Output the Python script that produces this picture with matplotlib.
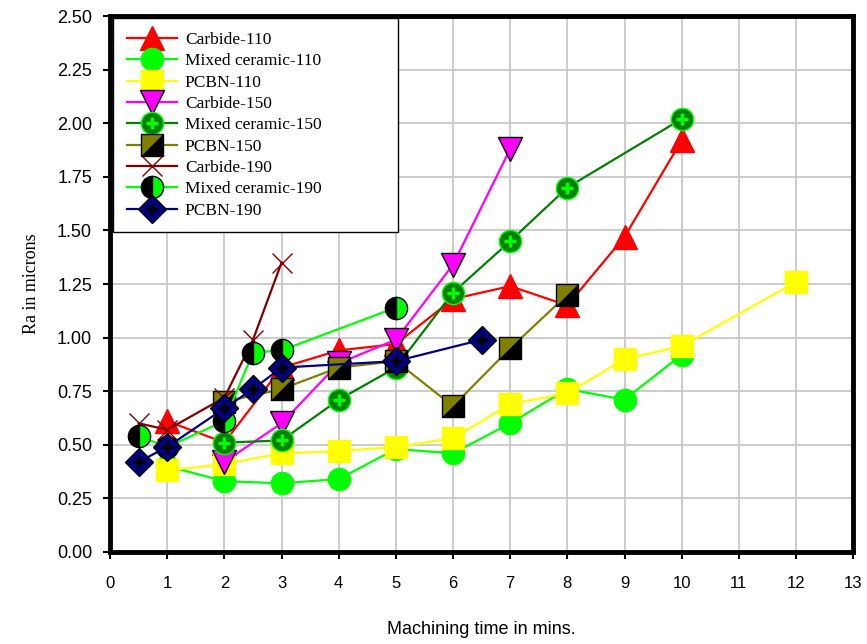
import numpy as np
import matplotlib
matplotlib.use('Agg')
import matplotlib.pyplot as plt
from matplotlib.legend_handler import HandlerTuple

# data
c110_x = [1, 2, 3, 4, 5, 6, 7, 8, 9, 10]
c110_y = [0.61, 0.51, 0.86, 0.94, 0.97, 1.18, 1.24, 1.15, 1.47, 1.92]

mc110_x = [1, 2, 3, 4, 5, 6, 7, 8, 9, 10]
mc110_y = [0.40, 0.33, 0.32, 0.34, 0.48, 0.46, 0.60, 0.76, 0.71, 0.92]

p110_x = [1, 2, 3, 4, 5, 6, 7, 8, 9, 10, 12]
p110_y = [0.38, 0.41, 0.46, 0.47, 0.49, 0.53, 0.69, 0.74, 0.90, 0.96, 1.26]

c150_x = [2, 3, 4, 5, 6, 7]
c150_y = [0.42, 0.60, 0.88, 0.99, 1.34, 1.88]

mc150_x = [2, 3, 4, 5, 6, 7, 8, 10]
mc150_y = [0.51, 0.52, 0.71, 0.86, 1.21, 1.45, 1.70, 2.02]

p150_x = [2, 3, 4, 5, 6, 7, 8]
p150_y = [0.70, 0.76, 0.86, 0.89, 0.68, 0.95, 1.20]

c190_x = [0.5, 1, 2, 2.5, 3]
c190_y = [0.60, 0.57, 0.72, 0.99, 1.35]

mc190_x = [0.5, 1, 2, 2.5, 3, 5]
mc190_y = [0.54, 0.49, 0.61, 0.93, 0.94, 1.14]

p190_x = [0.5, 1, 2, 2.5, 3, 5, 6.5]
p190_y = [0.42, 0.49, 0.67, 0.76, 0.86, 0.89, 0.99]

x_ticks = np.arange(0, 14, 1)
y_ticks = np.arange(0, 2.51, 0.25)

serif = ['Liberation Serif', 'DejaVu Serif']
sans = ['Liberation Sans', 'DejaVu Sans']

# custom half squares for PCBN-150 (diagonal split)
upper_tri = [(-1, 1), (1, 1), (-1, -1), (-1, 1)]
lower_tri = [(1, 1), (1, -1), (-1, -1), (1, 1)]

fig = plt.figure(figsize=(8.67, 6.44), dpi=100)
ax = fig.add_axes([0.127, 0.143, 0.857, 0.832])

lw = 1.6

l1, = ax.plot(c110_x, c110_y, color='#ff0000', lw=lw, marker='^', ms=17,
              mfc='#ff0000', mec='#ff0000')
l2, = ax.plot(mc110_x, mc110_y, color='#00ff00', lw=lw, marker='o', ms=16,
              mfc='#00ff00', mec='#00ff00')
l3, = ax.plot(p110_x, p110_y, color='#ffff00', lw=lw, marker='s', ms=16,
              mfc='#ffff00', mec='#ffff00')
l4, = ax.plot(c150_x, c150_y, color='#ff00ff', lw=lw, marker='v', ms=17,
              mfc='#ff00ff', mec='black', mew=1)
l5, = ax.plot(mc150_x, mc150_y, color='#008000', lw=lw, marker='o', ms=16,
              mfc='#008000', mec='#00ff00', mew=1)
l5b, = ax.plot(mc150_x, mc150_y, ls='none', marker='+', ms=9,
               mec='#00ff00', mew=2.5)
l6, = ax.plot(p150_x, p150_y, color='#808000', lw=lw, marker=upper_tri, ms=16,
              mfc='#808000', mec='#808000', mew=0.5)
l6b, = ax.plot(p150_x, p150_y, ls='none', marker=lower_tri, ms=16,
               mfc='black', mec='black', mew=0.5)
l6c, = ax.plot(p150_x, p150_y, ls='none', marker='s', ms=16,
               mfc='none', mec='black', mew=1)
l7, = ax.plot(c190_x, c190_y, color='#800000', lw=lw, marker='x', ms=14,
              mec='#800000', mew=1)
l8, = ax.plot(mc190_x, mc190_y, color='#00ff00', lw=lw, marker='o', ms=16,
              fillstyle='left', mfc='black', mfcalt='#00ff00', mec='black', mew=1)
l9, = ax.plot(p190_x, p190_y, color='#000080', lw=lw, marker='D', ms=14,
              mfc='#000080', mec='black', mew=1)
l9b, = ax.plot(p190_x, p190_y, ls='none', marker='+', ms=9,
               mec='black', mew=2.5)

ax.set_xlim(0, 13)
ax.set_ylim(0, 2.5)
ax.set_xticks(x_ticks)
ax.set_yticks(y_ticks)
ax.set_xticklabels([str(t) for t in x_ticks], family=sans, fontsize=12)
ax.set_yticklabels([f'{t:.2f}' for t in y_ticks], family=sans, fontsize=13)
ax.tick_params(axis='x', direction='out', length=5, width=1.5, pad=12)
ax.tick_params(axis='y', direction='out', length=5, width=1.5, pad=8)

ax.grid(True, color='#c8c8c8', lw=1.3)
ax.set_axisbelow(True)
for s in ax.spines.values():
    s.set_linewidth(3.5)
    s.set_color('black')

ax.set_xlabel('Machining time in mins.', family=sans, fontsize=13, labelpad=22)
ax.set_ylabel('Ra in microns', family=serif, fontsize=13, labelpad=12)

handles = [l1, l2, l3, l4, (l5, l5b), (l6, l6b, l6c), l7, l8, (l9, l9b)]
labels = ['Carbide-110', 'Mixed ceramic-110', 'PCBN-110', 'Carbide-150',
          'Mixed ceramic-150', 'PCBN-150', 'Carbide-190', 'Mixed ceramic-190', 'PCBN-190']
leg = ax.legend(handles, labels, loc='upper left',
                bbox_to_anchor=(0.004, 0.6, 0.384, 0.396), mode='expand',
                handler_map={tuple: HandlerTuple(ndivide=1)},
                prop={'family': serif, 'size': 12.5}, handlelength=2.9,
                handletextpad=0.45, labelspacing=0.3, borderpad=0.78,
                fancybox=False, framealpha=1, edgecolor='black',
                borderaxespad=0)
leg.get_frame().set_linewidth(1.0)

plt.savefig('out.png', dpi=100)
